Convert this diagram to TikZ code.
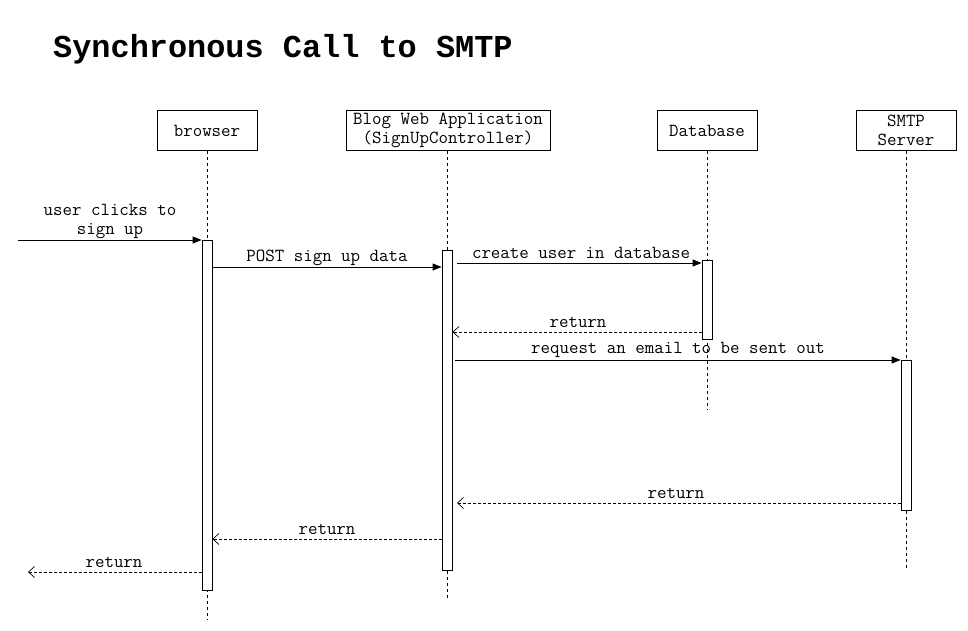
\documentclass[tikz,border=0pt]{standalone}
\usepackage{fontspec}
\newfontfamily\titlefont{Liberation Mono}
\usetikzlibrary{arrows.meta}
\tikzset{
  actor/.style={draw, line width=0.8pt, fill=white, minimum width=100pt, minimum height=40pt, inner sep=0pt, align=center},
  life/.style={line width=0.6pt, dash pattern=on 3pt off 3pt},
  actbar/.style={draw, line width=0.8pt, fill=white, minimum width=10pt, inner sep=0pt, anchor=north},
  call/.style={line width=0.8pt, -{Triangle[length=9pt,width=7pt]}},
  ret/.style={line width=0.7pt, dash pattern=on 3pt off 2pt, -{Straight Barb[length=6pt,width=11pt,line width=0.7pt]}},
  lbl/.style={inner sep=0pt, align=center}
}
\begin{document}
\begin{tikzpicture}[x=1pt,y=-1pt,font=\ttfamily\fontsize{18.4}{19}\selectfont]
\path[use as bounding box, fill=white] (0,0) rectangle (968,631);

\node[anchor=base west, inner sep=0pt, font=\titlefont\bfseries\fontsize{31.9}{38}\selectfont] (title) at (53,58) {Synchronous Call to SMTP};

% actors
\node[actor] (browser) at (207,130.5) {\raisebox{-1.5pt}{browser}};
\node[actor, minimum width=204pt] (app) at (448,130.5) {Blog Web Application\\(SignUpController)};
\node[actor] (db) at (707,130.5) {\raisebox{-1.5pt}{Database}};
\node[actor] (smtp) at (906,130.5) {SMTP\\Server};

% lifeline ends
\coordinate (brEnd) at (207,620);
\coordinate (appEnd) at (447,598);
\coordinate (dbEnd) at (707,410);
\coordinate (smtpEnd) at (906,568);

\draw[life] (browser.south) -- (brEnd);
\draw[life] (app.south -| appEnd) -- (appEnd);
\draw[life] (db.south) -- (dbEnd);
\draw[life] (smtp.south) -- (smtpEnd);

% activation bars
\node[actbar, minimum height=350pt] (actB) at (207,240) {};
\node[actbar, minimum height=320pt] (actW) at (447,250) {};
\node[actbar, minimum height=79pt] (actD) at (707,260) {};
\node[actbar, minimum height=150pt] (actS) at (906,360) {};

% message endpoints
\coordinate (start) at (18,240);
\coordinate (c1s) at (457,263);
\coordinate (c2s) at (455,360);
\coordinate (r1e) at (457,503);
\coordinate (r4e) at (28,572);

% 1 user clicks
\draw[call] (start) -- (actB.north west);
\node[lbl] (l1) at (110,221.5) {user clicks to\\sign up};

% 2 POST
\draw[call] (actB.east |- 0,267) -- (actW.west |- 0,267);
\node[lbl] (l2) at (327,258) {POST sign up data};

% 3 create user
\draw[call] (c1s) -- (actD.west |- c1s);
\node[lbl] (l3) at (581,253) {create user in database};

% 4 return
\draw[ret] (actD.west |- 0,332) -- (actW.east |- 0,332);
\node[lbl] (l4) at (578,322) {return};

% 5 request email
\draw[call] (c2s) -- (actS.north west);
\node[lbl] (l5) at (678,350) {request an email to be sent out};

% 6 return
\draw[ret] (actS.west |- r1e) -- (r1e);
\node[lbl] (l6) at (676,493) {return};

% 7 return
\draw[ret] (actW.west |- 0,539) -- (actB.east |- 0,539);
\node[lbl] (l7) at (327,529) {return};

% 8 return
\draw[ret] (actB.west |- r4e) -- (r4e);
\node[lbl] (l8) at (114,562) {return};
\end{tikzpicture}
\end{document}
